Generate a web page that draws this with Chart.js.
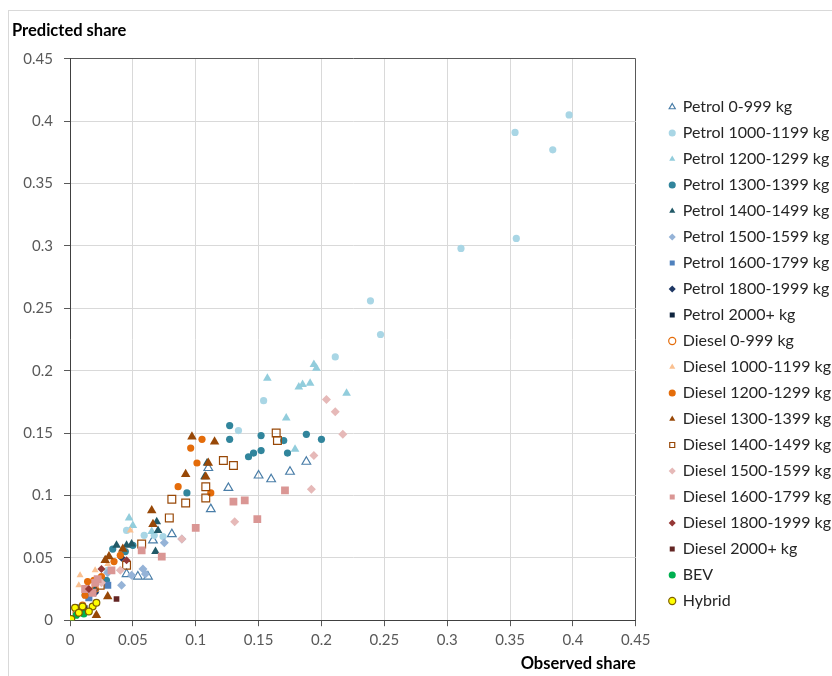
<!DOCTYPE html>
<html>
<head>
<meta charset="utf-8">
<title>Predicted vs observed share</title>
<script src="https://cdn.jsdelivr.net/npm/chart.js@4.4.1/dist/chart.umd.min.js"></script>
<style>
  html, body { margin: 0; padding: 0; background: #fff; }
  #wrap { position: relative; width: 832px; height: 676px; }
</style>
</head>
<body>
<div id="wrap"><canvas id="chart" width="832" height="676"></canvas></div>
<script>
// observed share (x), predicted share (y) per segment
var petrol0999 = [[.126,.106],[.112,.089],[.081,.069],[.150,.116],[.160,.113],[.175,.119],[.188,.127],[.110,.122],[.054,.035],[.062,.035],[.045,.037],[.066,.064]];
var petrol1000 = [[.397,.405],[.354,.391],[.384,.377],[.355,.306],[.311,.298],[.239,.256],[.247,.229],[.211,.211],[.154,.176],[.134,.152],[.059,.068],[.067,.068],[.074,.067],[.045,.072],[.030,.040],[.012,.020]];
var petrol1200 = [[.157,.194],[.182,.187],[.185,.189],[.191,.190],[.194,.205],[.196,.202],[.220,.182],[.172,.162],[.179,.137],[.047,.082],[.050,.076],[.065,.071],[.028,.048],[.012,.022]];
var petrol1300 = [[.127,.156],[.127,.145],[.152,.148],[.170,.144],[.188,.149],[.200,.145],[.152,.136],[.146,.134],[.142,.131],[.173,.134],[.093,.102],[.034,.057],[.029,.032],[.050,.060],[.044,.055]];
var petrol1400 = [[.109,.126],[.107,.115],[.069,.079],[.070,.072],[.068,.055],[.037,.060],[.049,.061],[.045,.060],[.020,.025]];
var petrol1500 = [[.049,.036],[.041,.028],[.058,.041],[.060,.037],[.089,.065],[.075,.062],[.030,.038],[.015,.020]];
var petrol1600 = [[.015,.018],[.030,.028],[.008,.010]];
var petrol1800 = [[.041,.050],[.020,.022],[.010,.008]];
var petrol2000 = [[.006,.005],[.012,.010]];
var diesel0999 = [[.010,.012],[.020,.025],[.005,.006]];
var diesel1000 = [[.008,.036],[.007,.028],[.020,.040],[.048,.072],[.015,.025],[.030,.045]];
var diesel1200 = [[.105,.145],[.096,.138],[.101,.126],[.086,.107],[.112,.102],[.019,.032],[.025,.035],[.035,.047],[.040,.052],[.012,.020],[.014,.031]];
var diesel1300 = [[.097,.147],[.115,.143],[.110,.126],[.092,.117],[.108,.115],[.065,.088],[.066,.077],[.031,.051],[.042,.057],[.030,.019],[.021,.004],[.028,.048]];
var diesel1400 = [[.164,.150],[.165,.144],[.122,.128],[.130,.124],[.108,.107],[.108,.098],[.081,.097],[.092,.094],[.079,.082],[.057,.061],[.045,.044],[.024,.028]];
var diesel1500 = [[.204,.177],[.211,.167],[.217,.149],[.194,.132],[.192,.105],[.131,.079],[.089,.065],[.040,.040],[.025,.030]];
var diesel1600 = [[.130,.095],[.100,.074],[.073,.051],[.057,.056],[.033,.040],[.139,.096],[.149,.081],[.171,.104],[.020,.030],[.012,.025],[.018,.022],[.022,.033]];
var diesel1800 = [[.025,.041],[.015,.025],[.045,.048]];
var diesel2000 = [[.037,.017],[.010,.008]];
var bev = [[.011,.005],[.001,.001],[.005,.004]];
var hybrid = [[.004,.010],[.010,.011],[.018,.011],[.021,.014],[.015,.007],[.001,.001],[.007,.006]];

var seriesNames = ['Petrol 0-999 kg', 'Petrol 1000-1199 kg', 'Petrol 1200-1299 kg', 'Petrol 1300-1399 kg',
  'Petrol 1400-1499 kg', 'Petrol 1500-1599 kg', 'Petrol 1600-1799 kg', 'Petrol 1800-1999 kg', 'Petrol 2000+ kg',
  'Diesel 0-999 kg', 'Diesel 1000-1199 kg', 'Diesel 1200-1299 kg', 'Diesel 1300-1399 kg', 'Diesel 1400-1499 kg',
  'Diesel 1500-1599 kg', 'Diesel 1600-1799 kg', 'Diesel 1800-1999 kg', 'Diesel 2000+ kg', 'BEV', 'Hybrid'];
var seriesPoints = [petrol0999, petrol1000, petrol1200, petrol1300, petrol1400, petrol1500, petrol1600, petrol1800, petrol2000,
  diesel0999, diesel1000, diesel1200, diesel1300, diesel1400, diesel1500, diesel1600, diesel1800, diesel2000, bev, hybrid];

// marker look for each series
var markers = [
  {shape: 'triangle', fill: 'rgba(255,255,255,0)', line: '#4a7ea8', r: 5, bw: 1.2},
  {shape: 'circle',   fill: '#a9d6e5', line: '#a9d6e5', r: 3.6, bw: 0},
  {shape: 'triangle', fill: '#92cddc', line: '#92cddc', r: 5, bw: 0},
  {shape: 'circle',   fill: '#31859c', line: '#31859c', r: 3.6, bw: 0},
  {shape: 'triangle', fill: '#215967', line: '#215967', r: 5, bw: 0},
  {shape: 'rectRot',  fill: '#95b3d7', line: '#95b3d7', r: 4.5, bw: 0},
  {shape: 'rect',     fill: '#4f81bd', line: '#4f81bd', r: 5, bw: 0},
  {shape: 'rectRot',  fill: '#1f3864', line: '#1f3864', r: 4, bw: 0},
  {shape: 'rect',     fill: '#0f243e', line: '#0f243e', r: 3.5, bw: 0},
  {shape: 'circle',   fill: 'rgba(255,255,255,0)', line: '#e46c0a', r: 3.2, bw: 1.2},
  {shape: 'triangle', fill: '#fac090', line: '#fac090', r: 4, bw: 0},
  {shape: 'circle',   fill: '#e46c0a', line: '#e46c0a', r: 3.6, bw: 0},
  {shape: 'triangle', fill: '#984807', line: '#984807', r: 5.5, bw: 0},
  {shape: 'rect',     fill: 'rgba(255,255,255,0)', line: '#984807', r: 5.5, bw: 1.2},
  {shape: 'rectRot',  fill: '#e6b9b8', line: '#e6b9b8', r: 4.5, bw: 0},
  {shape: 'rect',     fill: '#da9694', line: '#da9694', r: 5.5, bw: 0},
  {shape: 'rectRot',  fill: '#953735', line: '#953735', r: 4, bw: 0},
  {shape: 'rect',     fill: '#632523', line: '#632523', r: 4, bw: 0},
  {shape: 'circle',   fill: '#00b050', line: '#00b050', r: 3.6, bw: 0},
  {shape: 'circle',   fill: '#ffff00', line: '#7f6000', r: 3.4, bw: 1.2}
];

var FONT = 'Lato, "Open Sans", sans-serif';

var datasets = seriesNames.map(function (name, i) {
  var m = markers[i];
  return {
    label: name,
    data: seriesPoints[i].map(function (p) { return {x: p[0], y: p[1]}; }),
    pointStyle: m.shape,
    pointRadius: m.r,
    pointHoverRadius: m.r,
    backgroundColor: m.fill,
    borderColor: m.line,
    borderWidth: m.bw,
    // later series sit on top
    order: seriesNames.length - i
  };
});

// white page with the thin grey frame round the chart
var framePlugin = {
  id: 'frame',
  beforeDraw: function (chart) {
    var c = chart.ctx;
    c.save();
    c.fillStyle = '#fff';
    c.fillRect(0, 0, chart.width, chart.height);
    c.strokeStyle = '#d9d9d9';
    c.lineWidth = 1;
    c.strokeRect(8.5, 10.5, chart.width, chart.height);
    c.restore();
  }
};

function gridColor(c) {
  return c.tick && c.tick.value > 0.449 ? '#595959' : '#d9d9d9';
}
function tickLabel(v) {
  return String(+v.toFixed(2));
}

new Chart(document.getElementById('chart'), {
  type: 'scatter',
  data: {datasets: datasets},
  plugins: [framePlugin],
  options: {
    responsive: false,
    animation: false,
    layout: {padding: {top: 10, left: 12, right: -9, bottom: 2}},
    scales: {
      x: {
        type: 'linear', min: 0, max: 0.45,
        ticks: {stepSize: 0.05, padding: 5, color: '#595959', font: {family: FONT, size: 15}, callback: tickLabel},
        grid: {color: gridColor, tickColor: '#595959', tickLength: 6},
        border: {color: '#404040', width: 1},
        title: {display: true, text: 'Observed share', align: 'end', color: '#000',
          font: {family: FONT, size: 16.5, weight: 'bold'}, padding: {top: 0, bottom: 0}}
      },
      y: {
        type: 'linear', min: 0, max: 0.45,
        ticks: {stepSize: 0.05, padding: 11, color: '#595959', font: {family: FONT, size: 15}, callback: tickLabel},
        grid: {color: gridColor, tickColor: '#595959', tickLength: 6},
        border: {color: '#404040', width: 1},
        afterFit: function (s) { s.width = 58; }
      },
      // empty strip between plot and legend
      gap: {
        type: 'linear', position: 'right', display: true,
        grid: {display: false, drawTicks: false},
        ticks: {display: false},
        border: {display: false},
        afterFit: function (s) { s.width = 24; }
      }
    },
    plugins: {
      title: {
        display: true, text: 'Predicted share', align: 'start', color: '#000',
        font: {family: FONT, size: 16.5, weight: 'bold'}, padding: {top: 11, bottom: 18}
      },
      legend: {
        position: 'right', align: 'start', maxWidth: 300,
        title: {display: true, text: ' ', font: {size: 10}, padding: {top: 67, bottom: 0}},
        labels: {
          usePointStyle: true, boxWidth: 5, boxHeight: 5, padding: 10,
          color: '#262626', font: {family: FONT, size: 16},
          sort: function (a, b) { return a.datasetIndex - b.datasetIndex; }
        }
      },
      tooltip: {enabled: false}
    }
  }
});
</script>
</body>
</html>
